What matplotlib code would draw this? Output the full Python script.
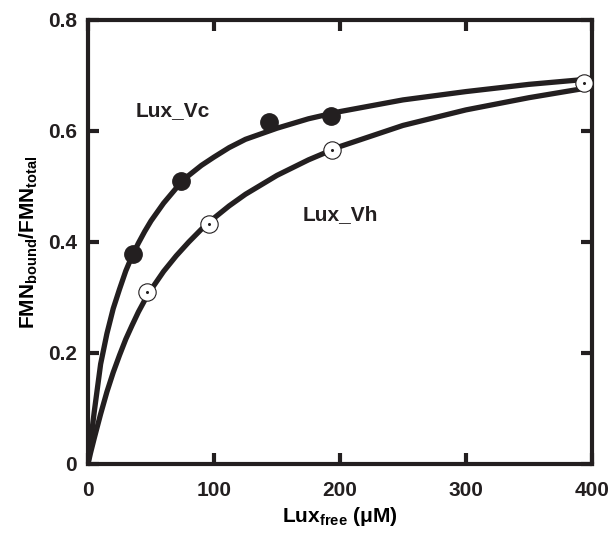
import matplotlib
matplotlib.use("Agg")
import matplotlib.pyplot as plt

plt.rcParams['font.family'] = 'Liberation Sans'
plt.rcParams['font.weight'] = 'bold'
plt.rcParams['mathtext.fontset'] = 'custom'
plt.rcParams['mathtext.rm'] = 'Liberation Sans:bold'
plt.rcParams['mathtext.bf'] = 'Liberation Sans:bold'

# measured points
vc_x = [36, 74, 144, 193]
vc_y = [0.379, 0.509, 0.617, 0.627]
vh_x = [47, 96, 194, 394]
vh_y = [0.309, 0.432, 0.565, 0.686]

# fitted curves
curve_x = [0, 2, 5, 10, 15, 20, 25, 30, 35, 40, 45, 50, 60, 70, 80, 90, 100, 112,
           125, 150, 175, 200, 250, 300, 350, 400]
vc_fit = [0, 0.04, 0.095, 0.18, 0.235, 0.28, 0.315, 0.348, 0.375, 0.398, 0.419, 0.438,
          0.47, 0.497, 0.52, 0.538, 0.553, 0.570, 0.585, 0.605, 0.622, 0.635, 0.656,
          0.671, 0.684, 0.694]
vh_fit = [0, 0.02, 0.047, 0.09, 0.13, 0.165, 0.196, 0.225, 0.25, 0.274, 0.295, 0.314,
          0.347, 0.375, 0.40, 0.423, 0.443, 0.465, 0.486, 0.52, 0.548, 0.572, 0.61,
          0.638, 0.66, 0.679]

fig = plt.figure(figsize=(6.13, 5.33), dpi=100)
ax = fig.add_axes([0.1436, 0.1295, 0.822, 0.833])

ax.plot(curve_x, vc_fit, color='#231f20', lw=3.8, solid_capstyle='butt', zorder=2)
ax.plot(curve_x, vh_fit, color='#231f20', lw=3.8, solid_capstyle='butt', zorder=2)
ax.plot(vc_x, vc_y, 'o', ms=12.5, color='#231f20', zorder=3)
ax.plot(vh_x, vh_y, 'o', ms=12.5, mfc='white', mec='#231f20', mew=0.8, zorder=3)
ax.plot(vh_x, vh_y, 'o', ms=1.2, color='#231f20', zorder=4)

ax.text(67, 0.636, 'Lux_Vc', fontsize=15, fontweight='bold', ha='center', va='center', color='#231f20')
ax.text(200, 0.449, 'Lux_Vh', fontsize=15, fontweight='bold', ha='center', va='center', color='#231f20')

ax.set_xlim(0, 400)
ax.set_ylim(0, 0.8)
ax.set_xticks([0, 100, 200, 300, 400])
ax.set_yticks([0, 0.2, 0.4, 0.6, 0.8])
ax.set_yticklabels(['0', '0.2', '0.4', '0.6', '0.8'])
ax.tick_params(direction='in', length=8, width=3, labelsize=15,
               top=True, right=True, colors='#231f20')
ax.tick_params(axis='x', pad=12)
ax.tick_params(axis='y', pad=8)
for s in ax.spines.values():
    s.set_linewidth(3)
    s.set_color('#231f20')

ax.set_xlabel('Lux$_\\mathbf{free}$ (μM)', fontsize=15, fontweight='bold', labelpad=4)
ax.set_ylabel(r'FMN$_\mathbf{bound}$/FMN$_\mathbf{total}$', fontsize=15, fontweight='bold', labelpad=6)

fig.savefig('out.png', dpi=100)
